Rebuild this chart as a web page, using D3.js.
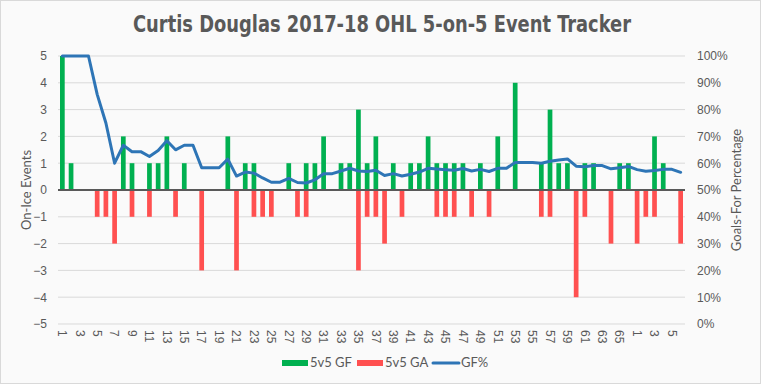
<!DOCTYPE html>
<html>
<head>
<meta charset="utf-8">
<script src="https://cdn.jsdelivr.net/npm/d3@7"></script>
<style>
  body { margin: 0; background: #fff; }
  svg { display: block; font-family: Lato, "Liberation Sans", "Noto Sans", sans-serif; }
</style>
</head>
<body>
<svg id="chart" width="761" height="384"></svg>
<script>
// game labels: 66 regular season games, then 6 playoff games
const gameLabels = [
  "1","2","3","4","5","6","7","8","9","10","11","12","13","14","15","16","17","18","19","20",
  "21","22","23","24","25","26","27","28","29","30","31","32","33","34","35","36","37","38","39","40",
  "41","42","43","44","45","46","47","48","49","50","51","52","53","54","55","56","57","58","59","60",
  "61","62","63","64","65","66",
  "1","2","3","4","5","6"
]

const goalsFor = [
  5,1,0,0,0,0,0,2,1,0, 1,1,2,0,1,0,0,0,0,2,
  0,1,1,0,0,0,1,0,1,1, 2,0,1,1,3,1,2,0,1,0,
  1,1,2,1,1,1,1,0,1,0, 2,0,4,0,0,1,3,1,1,0,
  1,1,0,0,1,1,
  0,0,2,1,0,0
]

const goalsAgainst = [
  0,0,0,0,-1,-1,-2,0,-1,0, -1,0,0,-1,0,0,-3,0,0,0,
  -3,0,-1,-1,-1,0,0,-1,-1,0, 0,0,0,0,-3,-1,-1,-2,0,-1,
  0,0,0,-1,-1,-1,0,-1,0,-1, 0,0,0,0,0,-1,-1,0,0,-4,
  -1,0,0,-2,0,0,
  -2,-1,-1,0,0,-2
]

// cumulative GF%
const gfPct = [
  100,100,100,100,85.7,75.0,60.0,66.7,64.3,64.3, 62.5,64.7,68.4,65.0,66.7,66.7,58.3,58.3,58.3,61.5,
  55.2,56.7,56.3,54.5,52.9,52.9,54.3,52.8,52.6,53.8, 56.1,56.1,57.1,58.1,57.1,56.9,57.4,55.4,56.1,55.2,
  55.9,56.7,58.1,57.8,57.6,57.4,58.0,57.1,57.7,56.9, 58.1,58.1,60.3,60.3,60.3,60.0,60.7,61.2,61.6,58.9,
  58.7,59.1,59.1,57.9,58.3,58.8,
  57.6,57.0,57.3,57.7,57.7,56.6
]

const leftTicks = [-5,-4,-3,-2,-1,0,1,2,3,4,5]
const rightTicks = [0,10,20,30,40,50,60,70,80,90,100]

const textColor = "#595959"
const svg = d3.select("#chart")

svg.append("rect")
  .attr("x", 0.5).attr("y", 0.5)
  .attr("width", 760).attr("height", 383)
  .attr("fill", "#fafafa")
  .attr("stroke", "#d9d9d9")

svg.append("text")
  .attr("x", 382).attr("y", 32)
  .attr("text-anchor", "middle")
  .attr("font-family", "'Liberation Sans Narrow', 'DejaVu Sans Condensed', sans-serif")
  .attr("font-weight", "bold")
  .attr("font-size", 23)
  .attr("fill", textColor)
  .attr("textLength", 498)
  .attr("lengthAdjust", "spacingAndGlyphs")
  .text("Curtis Douglas 2017-18 OHL 5-on-5 Event Tracker")

const plotLeft = 58, plotRight = 685, plotTop = 56, plotBottom = 324

const x = d3.scaleBand()
  .domain(d3.range(gameLabels.length))
  .range([plotLeft, plotRight])
  .paddingInner(0.46)
  .paddingOuter(0.23)

const y = d3.scaleLinear().domain([-5, 5]).range([plotBottom, plotTop])
const yPct = d3.scaleLinear().domain([0, 100]).range([plotBottom, plotTop])

// gridlines
svg.append("g")
  .selectAll("line")
  .data(leftTicks.filter(d => d !== 0))
  .join("line")
  .attr("x1", plotLeft).attr("x2", plotRight)
  .attr("y1", d => y(d)).attr("y2", d => y(d))
  .attr("stroke", "#d9d9d9")
  .attr("stroke-width", 1)

// left axis
const leftAxis = svg.append("g")
  .attr("transform", `translate(${plotLeft},0)`)
  .call(d3.axisLeft(y).tickValues(leftTicks).tickSize(0).tickPadding(11))
leftAxis.select(".domain").remove()
leftAxis.selectAll("text")
  .attr("font-family", null)
  .attr("font-size", 12).attr("fill", textColor)

// right axis
const rightAxis = svg.append("g")
  .attr("transform", `translate(${plotRight},0)`)
  .call(d3.axisRight(yPct).tickValues(rightTicks).tickSize(0).tickPadding(12).tickFormat(d => d + "%"))
rightAxis.select(".domain").remove()
rightAxis.selectAll("text")
  .attr("font-size", 12).attr("fill", textColor)

// bars
svg.append("g")
  .selectAll("rect")
  .data(goalsFor)
  .join("rect")
  .attr("x", (d, i) => x(i))
  .attr("width", x.bandwidth())
  .attr("y", d => y(d))
  .attr("height", d => y(0) - y(d))
  .attr("fill", "#00b050")

svg.append("g")
  .selectAll("rect")
  .data(goalsAgainst)
  .join("rect")
  .attr("x", (d, i) => x(i))
  .attr("width", x.bandwidth())
  .attr("y", y(0))
  .attr("height", d => y(d) - y(0))
  .attr("fill", "#ff5050")

// zero line
svg.append("line")
  .attr("x1", plotLeft).attr("x2", plotRight)
  .attr("y1", y(0)).attr("y2", y(0))
  .attr("stroke", "#595959")
  .attr("stroke-width", 2)

// x axis labels, every other game
const xAxis = svg.append("g")
  .attr("transform", `translate(0,${plotBottom})`)
  .call(d3.axisBottom(x)
    .tickValues(d3.range(0, gameLabels.length, 2))
    .tickSize(0)
    .tickFormat(i => gameLabels[i]))
xAxis.select(".domain").remove()
xAxis.selectAll("text")
  .attr("font-size", 12)
  .attr("fill", textColor)
  .attr("text-anchor", "start")
  .attr("transform", "rotate(90)")
  .attr("x", 6)
  .attr("y", 0)
  .attr("dy", "0.35em")

// GF% line
const line = d3.line()
  .x((d, i) => x(i) + x.bandwidth() / 2)
  .y(d => yPct(d))

svg.append("path")
  .datum(gfPct)
  .attr("d", line)
  .attr("fill", "none")
  .attr("stroke", "#2e75b6")
  .attr("stroke-width", 3)
  .attr("stroke-linejoin", "round")
  .attr("stroke-linecap", "round")

// axis titles
svg.append("text")
  .attr("transform", `translate(31,${y(0)}) rotate(-90)`)
  .attr("text-anchor", "middle")
  .attr("font-size", 13)
  .attr("fill", textColor)
  .text("On-Ice Events")

svg.append("text")
  .attr("transform", `translate(741,${y(0)}) rotate(-90)`)
  .attr("text-anchor", "middle")
  .attr("font-size", 13)
  .attr("fill", textColor)
  .text("Goals-For Percentage")

// legend
const legendItems = [
  { label: "5v5 GF", color: "#00b050", type: "bar", x: 282 },
  { label: "5v5 GA", color: "#ff5050", type: "bar", x: 357 },
  { label: "GF%", color: "#2e75b6", type: "line", x: 433 }
]

const legend = svg.append("g").attr("transform", "translate(0,363)")
legendItems.forEach(item => {
  if (item.type === "bar") {
    legend.append("rect")
      .attr("x", item.x).attr("y", -3)
      .attr("width", 26).attr("height", 6)
      .attr("fill", item.color)
  } else {
    legend.append("line")
      .attr("x1", item.x).attr("x2", item.x + 26)
      .attr("y1", 0).attr("y2", 0)
      .attr("stroke", item.color)
      .attr("stroke-width", 3)
      .attr("stroke-linecap", "round")
  }
  legend.append("text")
    .attr("x", item.x + 28).attr("y", 4)
    .attr("font-size", 13)
    .attr("fill", textColor)
    .text(item.label)
})
</script>
</body>
</html>
